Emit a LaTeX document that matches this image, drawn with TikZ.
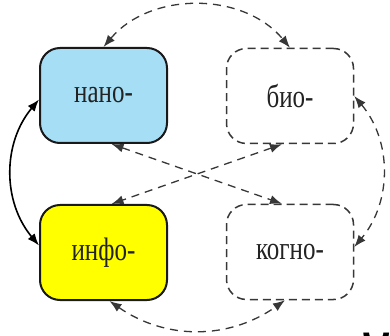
\documentclass[tikz,border=0pt]{standalone}
\usepackage{fontspec}
\usepackage{graphicx}
\setmainfont{Liberation Serif}
\newfontfamily\titlefont{Liberation Sans}
\usetikzlibrary{arrows.meta}
\definecolor{nanoblue}{RGB}{166,222,245}
\definecolor{infoyellow}{RGB}{255,255,0}
\definecolor{dashgrey}{RGB}{55,55,55}
\definecolor{labelgrey}{RGB}{35,35,35}
% labels are set a little taller than the plain font
\newcommand\arealabel[1]{\scalebox{1}[1.3]{#1}}
\tikzset{
  boxbase/.style={rounded corners=20pt, minimum width=127pt, minimum height=95pt,
    inner sep=0pt, text=labelgrey, font=\fontsize{25}{25}\selectfont},
  solidbox/.style={boxbase, draw=black!90, line width=2pt},
  dashbox/.style={boxbase, draw=dashgrey, line width=1.5pt, dash pattern=on 8pt off 5pt},
  link/.style={line width=1.3pt, draw=dashgrey, dash pattern=on 8pt off 6pt,
    {Latex[length=12pt,width=9pt]}-{Latex[length=12pt,width=9pt]}},
  solidlink/.style={line width=1.6pt, draw=black,
    {Latex[length=12pt,width=9pt]}-{Latex[length=12pt,width=9pt]}},
  bigletter/.style={anchor=base west, inner sep=0pt, font=\titlefont\fontsize{72}{72}\selectfont}
}
\begin{document}
\begin{tikzpicture}[x=1pt,y=-1pt]
  \clip (0,0) rectangle (390,336);
  \fill[white] (0,0) rectangle (390,336);

  % the four areas
  \node[solidbox, fill=nanoblue] (nano) at (103.5,95.5) {\arealabel{нано-}};
  \node[dashbox] (bio) at (290,96) {\arealabel{био-}};
  \node[solidbox, fill=infoyellow] (info) at (103.5,252.5) {\arealabel{инфо-}};
  \node[dashbox] (kogno) at (290,252) {\arealabel{когно-}};

  % links between the areas
  \draw[solidlink] ([yshift=-4pt]nano.west) to[bend right=40] ([yshift=7pt]info.west);
  \draw[link] (nano.north) to[bend left=50] (bio.north);
  \draw[link] (bio.east) to[bend left=40] ([yshift=5pt]kogno.east);
  \draw[link] ([xshift=6pt]info.south) to[bend right=35] ([xshift=-5pt]kogno.south);
  \draw[link] ([xshift=8pt]nano.south) -- ([xshift=-8pt]kogno.north);
  \draw[link] ([xshift=-8pt]bio.south) -- ([xshift=8pt]info.north);

  % heading below, cut by the lower edge
  \node[bigletter] (ve) at (84,386) {В};
  \node[bigletter] (yi) at (356,386) {й};
\end{tikzpicture}
\end{document}
